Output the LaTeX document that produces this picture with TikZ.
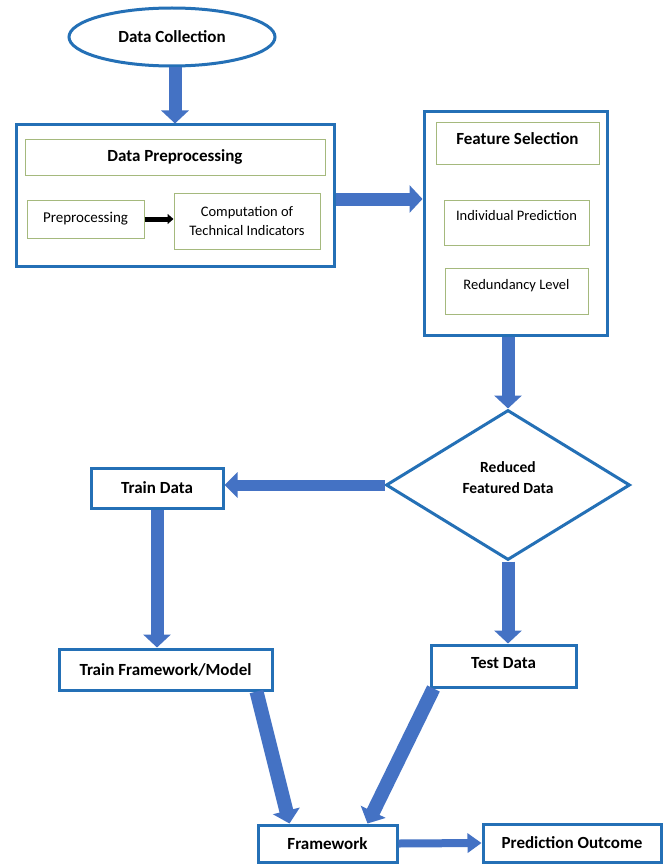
\documentclass[tikz,border=0pt]{standalone}
\usepackage{fontspec}
\setmainfont{Carlito}
\usetikzlibrary{shapes.geometric,arrows.meta}
\definecolor{bordblue}{HTML}{2470B6}
\definecolor{arrblue}{HTML}{4472C4}
\definecolor{greenb}{RGB}{165,185,125}
\begin{document}
\begin{tikzpicture}[x=1pt,y=-1pt,
  bigbox/.style={draw=bordblue, line width=3pt, rectangle, inner sep=0pt, font=\fontsize{17}{20}\selectfont\bfseries},
  gbox/.style={draw=greenb, line width=1pt, rectangle, inner sep=0pt, align=center, font=\fontsize{14.5}{19}\selectfont},
  ghead/.style={gbox, font=\fontsize{17}{20}\selectfont\bfseries},
  fat/.style={draw=arrblue, line width=13pt, -{Triangle[length=13pt,width=27pt]}},
  thinblk/.style={draw=black, line width=5pt, -{Triangle[length=6pt,width=10pt]}}
]
\useasboundingbox[fill=white] (0,0) rectangle (668,864);

% nodes
\node[ellipse, draw=bordblue, line width=3pt, minimum width=206pt, minimum height=58pt, inner sep=0pt,
      font=\fontsize{17}{20}\selectfont\bfseries] (dc) at (172,37) {Data Collection};

\node[bigbox, minimum width=318pt, minimum height=141pt] (dp) at (175,195.5) {};
\node[ghead, minimum width=300pt, minimum height=36pt] (dpt) at (175,157) {Data Preprocessing};
\node[gbox, minimum width=117pt, minimum height=38pt, font=\fontsize{15}{19}\selectfont] (pre) at (85.5,219) {Preprocessing};
\node[gbox, minimum width=146pt, minimum height=56pt] (comp) at (247,221) {Computation of\\Technical Indicators};

\node[bigbox, minimum width=183pt, minimum height=223pt] (fs) at (515.5,223.5) {};
\node[ghead, minimum width=163pt, minimum height=41pt, text height=12pt, text depth=10pt] (fst) at (517.5,143.5) {Feature Selection};
\node[gbox, minimum width=145pt, minimum height=45pt, text height=12pt, text depth=16pt] (ip) at (516.5,222.5) {Individual Prediction};
\node[gbox, minimum width=143pt, minimum height=46pt, text height=12pt, text depth=16pt] (rl) at (516.5,291) {Redundancy Level};

\node[diamond, draw=bordblue, line width=3pt, minimum width=244pt, minimum height=150pt, inner sep=0pt] (rfd) at (508,485) {};
\node[align=center, inner sep=0pt, font=\fontsize{15.5}{21}\selectfont\bfseries] (rfdt) at ([yshift=7pt]rfd.center) {Reduced\\Featured Data};

\node[bigbox, minimum width=132pt, minimum height=40pt] (td) at (157,488) {Train Data};
\node[bigbox, minimum width=213pt, minimum height=41pt] (tfm) at (165.5,669.5) {Train Framework/Model};
\node[bigbox, minimum width=145pt, minimum height=42pt, text height=12pt, text depth=7pt] (ted) at (503.5,666) {Test Data};
\node[bigbox, minimum width=139pt, minimum height=37pt] (fw) at (327.5,843.5) {Framework};
\node[bigbox, minimum width=178pt, minimum height=38pt] (po) at (572,843) {Prediction Outcome};

% connectors
\draw[fat] (dc.south -| dp.north) -- (dp.north);
\draw[fat] ([yshift=-3.5pt]dp.east) -- ([yshift=-3.5pt]dp.east -| fs.west);
\draw[fat] (fs.south -| rfd.north) -- (rfd.north);
\draw[fat, line width=11pt, -{Triangle[length=13pt,width=25pt]}] (rfd.west) -- (rfd.west -| td.east);
\draw[fat] (td.south) -- (td.south |- tfm.north);
\draw[fat] (rfd.south) -- (rfd.south |- ted.north);
\draw[fat, line width=14pt] ([xshift=-17pt]tfm.south east) -- ([xshift=-38pt]fw.north);
\draw[fat, line width=14pt] ([xshift=4pt]ted.south west) -- ([xshift=40pt]fw.north);
\draw[fat, line width=8pt, -{Triangle[length=14pt,width=19pt]}] (fw.east) -- (po.west);
\draw[thinblk] (pre.east) -- (pre.east -| comp.west);
\end{tikzpicture}
\end{document}
